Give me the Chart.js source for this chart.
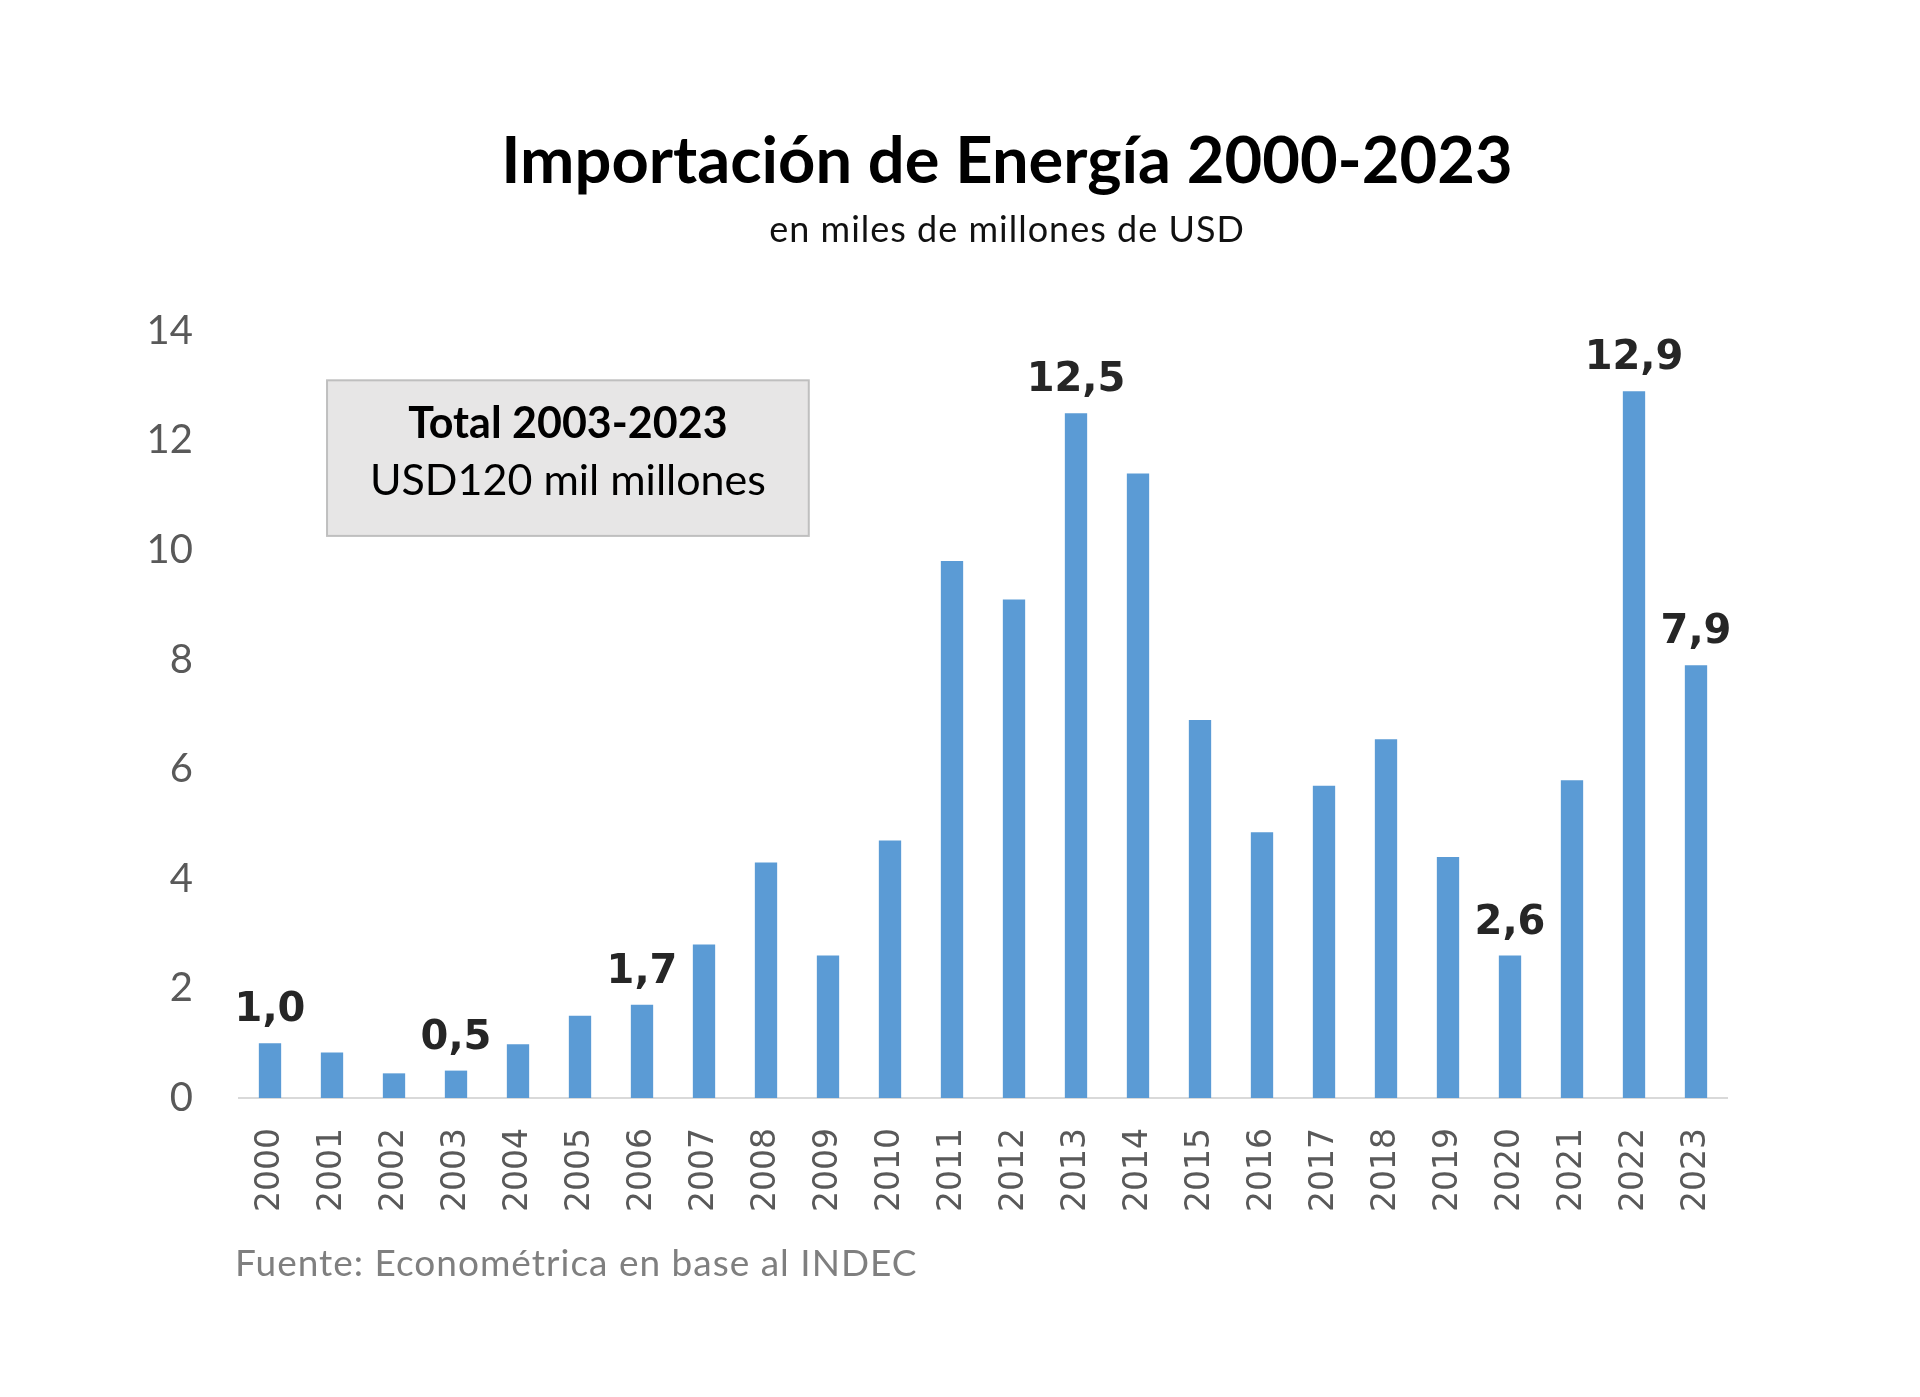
<!DOCTYPE html>
<html lang="es">
<head>
<meta charset="utf-8">
<title>Importación de Energía 2000-2023</title>
<script src="https://cdn.jsdelivr.net/npm/chart.js@4/dist/chart.umd.min.js"></script>
<style>
  html, body { margin: 0; padding: 0; background: #fff; }
  #lienzo { position: relative; width: 1920px; height: 1397px; overflow: hidden; }
  #grafico { position: absolute; left: 0; top: 0; }
  .texto { position: absolute; white-space: nowrap; line-height: 1; font-family: Lato, "Open Sans", sans-serif; }
  #titulo { left: 1007px; top: 126px; transform: translateX(-50%); font-size: 65px; font-weight: bold; color: #000; }
  #subtitulo { left: 1007px; top: 210px; transform: translateX(-50%); font-size: 36px; letter-spacing: 1px; color: #111; }
  #fuente { left: 235px; top: 1243px; font-size: 37px; letter-spacing: 1px; color: #7f7f7f; }
</style>
</head>
<body>
<div id="lienzo">
  <canvas id="grafico" width="1920" height="1397"></canvas>
  <div class="texto" id="titulo">Importación de Energía 2000-2023</div>
  <div class="texto" id="subtitulo">en miles de millones de USD</div>
  <div class="texto" id="fuente">Fuente: Econométrica en base al INDEC</div>
</div>

<script>
  // Datos (miles de millones de USD)
  const anios = ['2000', '2001', '2002', '2003', '2004', '2005', '2006', '2007', '2008', '2009', '2010', '2011',
                 '2012', '2013', '2014', '2015', '2016', '2017', '2018', '2019', '2020', '2021', '2022', '2023'];
  const importaciones = [1.0, 0.83, 0.45, 0.5, 0.98, 1.5, 1.7, 2.8, 4.3, 2.6, 4.7, 9.8,
                         9.1, 12.5, 11.4, 6.9, 4.85, 5.7, 6.55, 4.4, 2.6, 5.8, 12.9, 7.9];
  // Años que llevan la etiqueta con el valor
  const aniosEtiquetados = ['2000', '2003', '2006', '2013', '2020', '2022', '2023'];
  // Escala del eje Y
  const ejeYMin = 0;
  const ejeYMax = 14;
  const ejeYPaso = 2;
  // Recuadro con el total
  const recuadroLineas = ['Total 2003-2023', 'USD120 mil millones'];

  const ctx = document.getElementById('grafico').getContext('2d');

  // Plugin: etiquetas de valor encima de algunas barras
  const etiquetasValor = {
    id: 'etiquetasValor',
    afterDatasetsDraw(chart) {
      const c = chart.ctx;
      const meta = chart.getDatasetMeta(0);
      c.save();
      c.font = 'bold 40px "DejaVu Sans"';
      c.fillStyle = '#262626';
      c.textAlign = 'center';
      c.textBaseline = 'alphabetic';
      anios.forEach((anio, i) => {
        if (!aniosEtiquetados.includes(anio)) return;
        const barra = meta.data[i];
        const texto = importaciones[i].toFixed(1).replace('.', ',');
        c.fillText(texto, barra.x, barra.y - 22);
      });
      c.restore();
    }
  };

  // Plugin: recuadro gris con el total acumulado
  const recuadroTotal = {
    id: 'recuadroTotal',
    afterDraw(chart) {
      const c = chart.ctx;
      const x = chart.scales.x;
      const y = chart.scales.y;
      const izq = x.getPixelForValue(0.92);
      const der = x.getPixelForValue(8.69);
      const arriba = y.getPixelForValue(13.1);
      const abajo = y.getPixelForValue(10.26);
      c.save();
      c.fillStyle = '#e7e6e6';
      c.fillRect(izq, arriba, der - izq, abajo - arriba);
      c.strokeStyle = '#bfbfbf';
      c.lineWidth = 2;
      c.strokeRect(izq, arriba, der - izq, abajo - arriba);
      c.fillStyle = '#000';
      c.textAlign = 'center';
      c.textBaseline = 'middle';
      const centro = (izq + der) / 2;
      c.font = 'bold 43px Lato';
      c.fillText(recuadroLineas[0], centro, arriba + 44);
      c.font = '43px Lato';
      c.fillText(recuadroLineas[1], centro, arriba + 101);
      c.restore();
    }
  };

  const grafico = new Chart(ctx, {
    type: 'bar',
    data: {
      labels: anios,
      datasets: [{
        label: 'Importación de energía',
        data: importaciones,
        backgroundColor: '#5b9bd5',
        borderWidth: 0,
        barPercentage: 0.36,
        categoryPercentage: 1
      }]
    },
    options: {
      responsive: false,
      animation: false,
      layout: {
        padding: { top: 331, left: 139, right: 193, bottom: 179 }
      },
      plugins: {
        legend: { display: false },
        tooltip: { enabled: false }
      },
      scales: {
        x: {
          grid: { display: false, drawTicks: false },
          border: { display: true, color: '#d9d9d9', width: 2 },
          ticks: {
            color: '#595959',
            font: { family: 'DejaVu Sans', size: 33 },
            minRotation: 90,
            maxRotation: 90,
            padding: 30
          },
          afterFit(eje) { eje.height = 120; }
        },
        y: {
          min: ejeYMin,
          max: ejeYMax,
          grid: { display: false, drawTicks: false },
          border: { display: false },
          ticks: {
            stepSize: ejeYPaso,
            color: '#595959',
            font: { family: 'Lato', size: 40 },
            padding: 46
          },
          afterFit(eje) { eje.width = 100; }
        }
      }
    },
    plugins: [etiquetasValor, recuadroTotal]
  });
</script>
</body>
</html>
